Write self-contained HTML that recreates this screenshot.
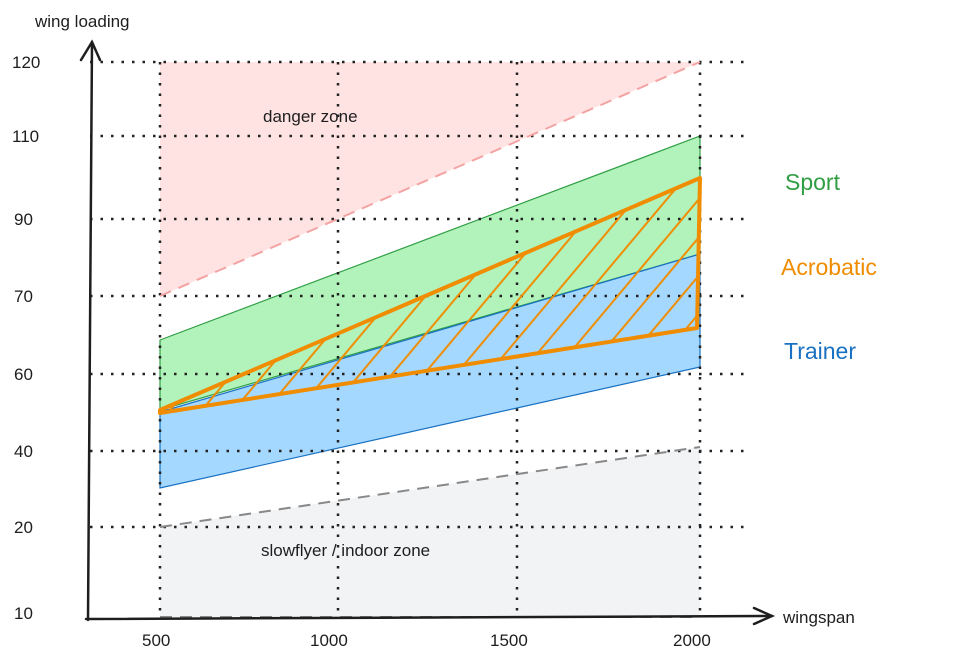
<!DOCTYPE html>
<html><head><meta charset="utf-8"><style>body{margin:0;background:#fff}svg{display:block}text{font-family:"Liberation Sans",sans-serif}</style></head><body>
<svg width="975" height="667" viewBox="0 0 975 667">
<defs>
<clipPath id="oc"><polygon points="160,410 700,178 697,328 160,413"/></clipPath>
<pattern id="h" patternUnits="userSpaceOnUse" width="32" height="400" patternTransform="skewX(-40)">
<line x1="2" y1="0" x2="2" y2="400" stroke="#f08c00" stroke-width="2.6"/>
</pattern>
</defs>
<polygon points="160,62 700,62 160,296" fill="#ffe3e3"/>
<polygon points="160,527 700,447 700,617 160,617" fill="#f1f3f5"/>
<polygon points="160,340 700,136 700,254 160,410" fill="#b2f2bb" stroke="#2f9e44" stroke-width="1.2"/>
<polygon points="160,412 700,254 700,367 160,488" fill="#a5d8ff" stroke="#1971c2" stroke-width="1.2"/>
<g stroke="#222" stroke-width="2.5" stroke-dasharray="2.5,8" fill="none">
<line x1="90" y1="62" x2="750" y2="62"/><line x1="90" y1="136" x2="750" y2="136"/>
<line x1="90" y1="219" x2="750" y2="219"/><line x1="90" y1="296" x2="745" y2="296"/>
<line x1="90" y1="374" x2="745" y2="374"/><line x1="90" y1="451" x2="750" y2="451"/>
<line x1="90" y1="527" x2="750" y2="527"/>
<line x1="160" y1="62" x2="160" y2="617"/><line x1="338" y1="62" x2="338" y2="617"/>
<line x1="517" y1="62" x2="517" y2="617"/><line x1="700" y1="62" x2="700" y2="617"/>
</g>
<line x1="160" y1="296" x2="700" y2="62" stroke="#f4a3a3" stroke-width="2" stroke-dasharray="12,8"/>
<line x1="160" y1="527" x2="700" y2="447" stroke="#888" stroke-width="2" stroke-dasharray="12,8"/>
<line x1="160" y1="617" x2="700" y2="617" stroke="#888" stroke-width="2" stroke-dasharray="12,8"/>
<rect x="100" y="150" width="700" height="400" fill="url(#h)" clip-path="url(#oc)"/>
<polygon points="160,410 700,178 697,328 160,413" fill="none" stroke="#f08c00" stroke-width="4" stroke-linejoin="round"/>
<g stroke="#1e1e1e" stroke-width="2.5" fill="none" stroke-linecap="round">
<line x1="88" y1="620" x2="92" y2="42"/><polyline points="81,60 92,42 100,60"/>
<line x1="86" y1="619" x2="772" y2="616"/><polyline points="754,608 772,616 754,624"/>
</g>
<g font-size="17" fill="#1e1e1e">
<text x="35" y="27">wing loading</text>
<text x="783" y="623">wingspan</text>
<text x="12" y="68">120</text><text x="12" y="142">110</text><text x="14" y="225">90</text>
<text x="14" y="302">70</text><text x="14" y="380">60</text><text x="14" y="457">40</text>
<text x="14" y="533">20</text><text x="14" y="619">10</text>
<text x="142" y="646">500</text><text x="310" y="646">1000</text><text x="490" y="646">1500</text><text x="673" y="646">2000</text>
<text x="263" y="122">danger zone</text>
<text x="261" y="556">slowflyer / indoor zone</text>
</g>
<g font-size="23">
<text x="785" y="190" fill="#2f9e44">Sport</text>
<text x="781" y="275" fill="#f08c00">Acrobatic</text>
<text x="784" y="359" fill="#1971c2">Trainer</text>
</g>
</svg>
</body></html>
